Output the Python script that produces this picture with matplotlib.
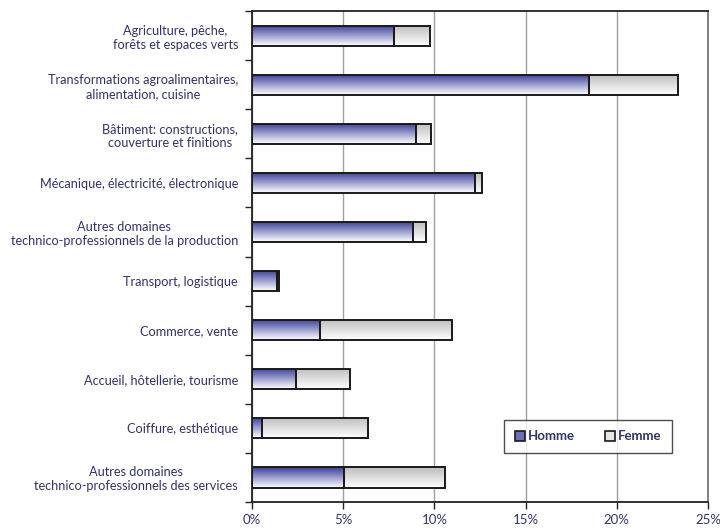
import numpy as np
import matplotlib
matplotlib.use("Agg")
import matplotlib.pyplot as plt
from matplotlib.patches import Rectangle
from matplotlib.ticker import FuncFormatter, FixedLocator

# Domaines de formation (de haut en bas)
domaines = [
    "Agriculture, pêche,\nforêts et espaces verts",
    "Transformations agroalimentaires,\nalimentation, cuisine",
    "Bâtiment: constructions,\ncouverture et finitions",
    "Mécanique, électricité, électronique",
    "Autres domaines\ntechnico-professionnels de la production",
    "Transport, logistique",
    "Commerce, vente",
    "Accueil, hôtellerie, tourisme",
    "Coiffure, esthétique",
    "Autres domaines\ntechnico-professionnels des services",
]
# parts en %
homme = [7.8, 18.5, 9.0, 12.2, 8.8, 1.35, 3.73, 2.4, 0.53, 5.06]
femme = [1.95, 4.85, 0.8, 0.4, 0.75, 0.15, 7.22, 3.0, 5.84, 5.54]

txt_color = "#333366"
plt.rcParams["font.family"] = ["Lato", "DejaVu Sans"]

fig = plt.figure(figsize=(7.2, 5.29), dpi=100)
ax = fig.add_axes([0.35, 0.051, 0.6333, 0.928])

n = len(domaines)
y = np.arange(n)
h = 0.41

grad = np.linspace(0, 1, 64).reshape(-1, 1)


def gradient_bar(x0, w, yc, top, bottom):
    # dégradé vertical du haut (couleur) vers le bas (blanc)
    cmap = matplotlib.colors.LinearSegmentedColormap.from_list("g", [top, bottom])
    im = ax.imshow(grad, cmap=cmap, aspect="auto", interpolation="bilinear",
                   extent=(x0, x0 + w, yc + h / 2, yc - h / 2), zorder=2)
    rect = Rectangle((x0, yc - h / 2), w, h, facecolor="none",
                     edgecolor="#1a1a1a", linewidth=1.4, zorder=3)
    ax.add_patch(rect)
    im.set_clip_path(rect)


for i in range(n):
    gradient_bar(0, homme[i], y[i], "#3a3f9a", "#ffffff")
    gradient_bar(homme[i], femme[i], y[i], "#bdbdbd", "#ffffff")

ax.set_xlim(0, 25)
ax.set_ylim(n - 0.5, -0.5)
ax.set_xticks(np.arange(0, 26, 5))
ax.xaxis.set_major_formatter(FuncFormatter(lambda v, p: f"{v:.0f}%"))
ax.grid(axis="x", color="#a0a0a0", linewidth=1, zorder=0)
ax.set_axisbelow(True)

ax.set_yticks(y)
ax.set_yticklabels(domaines, color=txt_color, fontsize=9.2, multialignment="center")
ax.yaxis.set_minor_locator(FixedLocator(np.arange(-0.5, n, 1)))
ax.tick_params(axis="y", which="major", length=0, pad=10)
ax.tick_params(axis="y", which="minor", length=5, width=1, color="#222222")
ax.tick_params(axis="x", length=5, width=1, color="#222222", labelcolor=txt_color, labelsize=9.5)

for side in ["left", "bottom", "top"]:
    ax.spines[side].set_color("#222222")
    ax.spines[side].set_linewidth(1.3)
ax.spines["right"].set_color("#777777")
ax.spines["right"].set_linewidth(1.3)

# légende
handles = [Rectangle((0, 0), 1, 1, facecolor="#6a6fb8", edgecolor="#1a1a1a", lw=1.2),
           Rectangle((0, 0), 1, 1, facecolor="#e6e6e6", edgecolor="#1a1a1a", lw=1.2)]
leg = ax.legend(handles, ["Homme", "Femme"], ncol=2, loc="lower left",
                bbox_to_anchor=(0.5526, 0.10, 0.368, 0.059), mode="expand",
                frameon=True, fancybox=False, handlelength=0.8, handleheight=0.8,
                handletextpad=0.2, columnspacing=1.5, borderpad=0.8,
                borderaxespad=0, prop={"weight": "bold", "size": 9.5})
leg.get_frame().set_edgecolor("#222222")
leg.get_frame().set_linewidth(1.0)
for t in leg.get_texts():
    t.set_color(txt_color)

fig.savefig("out.png", dpi=100)
